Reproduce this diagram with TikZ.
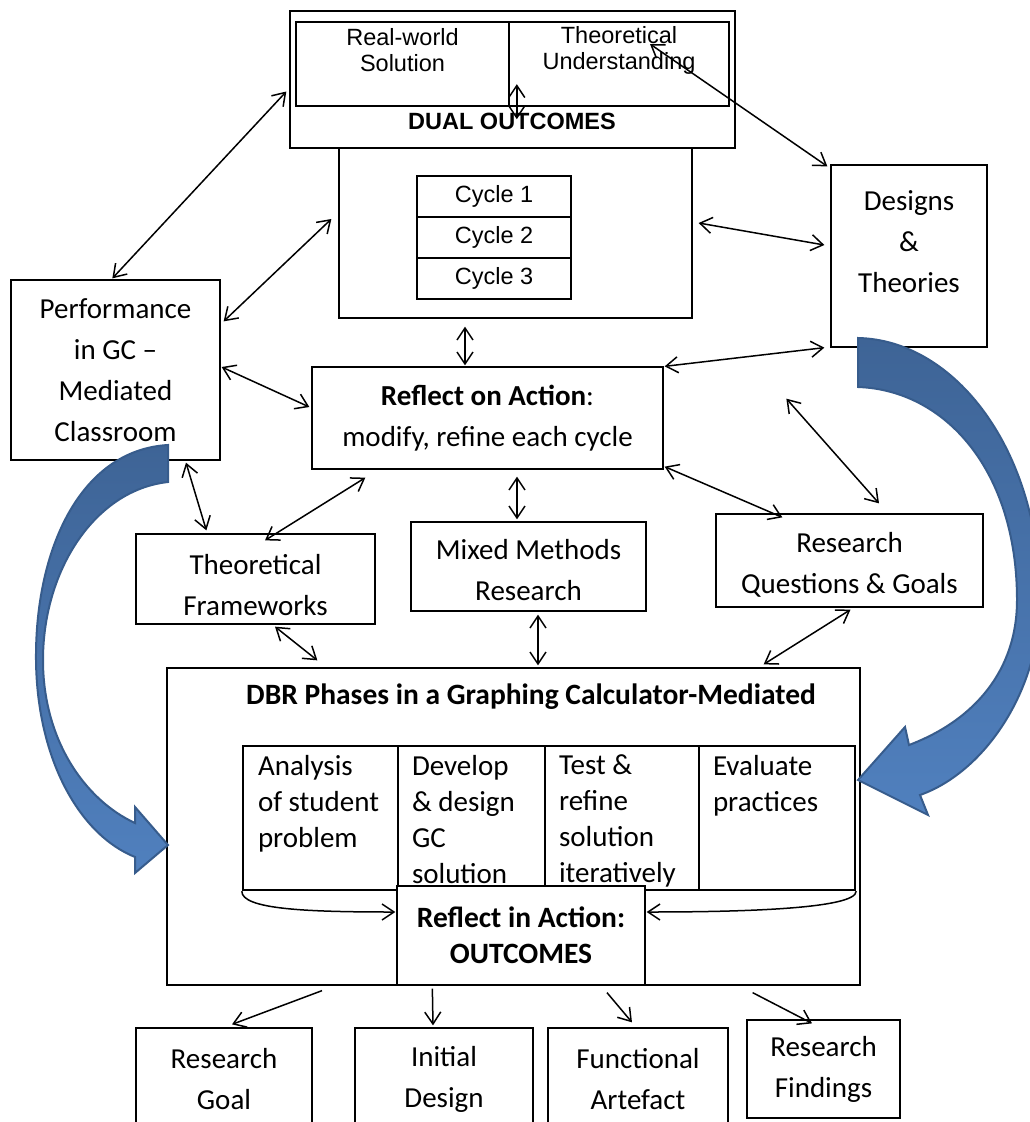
\documentclass[tikz,border=0pt]{standalone}
\usepackage{fontspec}
\setmainfont{Carlito}
\newfontfamily\arialfont{Liberation Sans}
\usetikzlibrary{positioning,arrows.meta,calc}
\definecolor{bluetop}{RGB}{62,100,150}
\definecolor{bluebot}{RGB}{80,128,190}
\definecolor{blueedge}{RGB}{55,92,140}

\begin{document}
\begin{tikzpicture}[
  x=1pt, y=-1pt, >={Straight Barb[length=12pt,width=16pt]},
  box/.style={draw, line width=1.3pt, inner sep=0pt, align=center,
              font=\fontsize{29}{41}\selectfont},
  txt/.style={inner sep=0pt, align=center, font=\fontsize{29}{41}\selectfont},
  cell/.style={draw, line width=2.4pt, inner sep=0pt, align=center},
  atxt/.style={inner sep=0pt, align=center, font=\arialfont\fontsize{23.5}{26}\selectfont},
  ptxt/.style={anchor=north west, inner sep=0pt, align=left, font=\fontsize{29}{36}\selectfont},
  arr/.style={->, line width=1.5pt},
  dbl/.style={<->, line width=1.5pt},
  bluearr/.style={draw=blueedge, line width=2pt, top color=bluetop, bottom color=bluebot},
]
\useasboundingbox (0,0) rectangle (1030,1122);

\node[box, minimum width=445pt, minimum height=137pt] (dual) at (512.5,79.5) {};
\node[cell, minimum width=213pt, minimum height=84pt] (rwsol) at (402.5,64) {};
\node[cell, minimum width=220pt, minimum height=84pt] (thund) at (619,64) {};
\node[atxt] (rwtxt) at (402.5,50) {Real-world\\Solution};
\node[atxt] (thtxt) at (619,50) {Theoretical\\Understanding};
\node[atxt, font=\arialfont\bfseries\fontsize{23.5}{26}\selectfont] (dualtxt) at (512,121) {DUAL OUTCOMES};

\node[box, minimum width=353pt, minimum height=170pt] (cycles) at (515.5,233) {};
\foreach \i/\y in {1/196.5,2/237.5,3/278.5}
  \node[cell, atxt, minimum width=154pt, minimum height=41pt] (cyc\i) at (494,\y) {Cycle \i};

\node[box, minimum width=156pt, minimum height=182pt] (design) at (909,256) {};
\node[txt] (destxt) at (909,242) {Designs\\\&\\Theories};

\node[box, minimum width=209pt, minimum height=180pt] (perf) at (115.5,370) {Performance\\in GC --\\Mediated\\Classroom};
\node[box, minimum width=351pt, minimum height=102pt] (reflect) at (487.5,418) {\textbf{Reflect on Action}:\\modify, refine each cycle};

\node[box, minimum width=239pt, minimum height=90pt] (theo) at (255.5,579) {};
\node[txt] (theotxt) at (255.5,585) {Theoretical\\Frameworks};
\node[box, minimum width=235pt, minimum height=89pt] (mixed) at (528.5,566.5) {};
\node[txt] (mixedtxt) at (528.5,570.5) {Mixed Methods\\Research};
\node[box, minimum width=267pt, minimum height=93pt] (rq) at (849.5,560.5) {};
\node[txt] (rqtxt) at (849.5,564.5) {Research\\Questions \& Goals};

\node[box, minimum width=693pt, minimum height=317pt] (dbr) at (513.5,826.5) {};
\node[txt, font=\bfseries\fontsize{29.5}{34}\selectfont] (dbrtxt) at (531,697) {DBR Phases in a Graphing Calculator-Mediated};
\node[cell, minimum width=155pt, minimum height=144pt] (ph1) at (320.5,818) {};
\node[cell, minimum width=147pt, minimum height=144pt] (ph2) at (471.5,818) {};
\node[cell, minimum width=154pt, minimum height=144pt] (ph3) at (622,818) {};
\node[cell, minimum width=156pt, minimum height=144pt] (ph4) at (777,818) {};
\node[ptxt] (ph1txt) at ($(ph1.north west)+(16,10)$) {Analysis\\of student\\problem};
\node[ptxt] (ph2txt) at ($(ph2.north west)+(15,10)$) {Develop\\\& design\\GC\\solution};
\node[ptxt] (ph3txt) at ($(ph3.north west)+(15,10)$) {Test \&\\refine\\solution\\iteratively};
\node[ptxt] (ph4txt) at ($(ph4.north west)+(15,10)$) {Evaluate\\practices};
\node[box, fill=white, minimum width=248pt, minimum height=99pt,
      font=\bfseries\fontsize{29.5}{36}\selectfont] (rinact) at (521,935.5) {Reflect in Action:\\OUTCOMES};

\node[box, minimum width=176pt, minimum height=102pt] (goal) at (224,1079) {Research\\Goal};
\node[box, minimum width=178pt, minimum height=102pt] (initd) at (444,1079) {Initial\\Design};
\node[box, minimum width=180pt, minimum height=102pt] (funct) at (638,1079) {Functional\\Artefact};
\node[box, minimum width=153pt, minimum height=98pt] (findings) at (823.5,1069) {Research\\Findings};

\draw[dbl] ($(thund.south west)+(9,-23)$) -- ($(thund.south west)+(9,12)$);
\draw[dbl] ($(perf.north west)+(102,-1)$) -- ($(dual.west)+(-3,12)$);
\draw[dbl] ($(perf.north east)+(3,42)$) -- ($(cycles.west)+(-7,-14)$);
\draw[dbl] ($(thund.center)+(31,-20)$) -- ($(design.north west)+(-3,2)$);
\draw[dbl] ($(cycles.east)+(6,-10)$) -- ($(design.west)+(-6,-11)$);
\draw[dbl] ($(cycles.south)+(-50.5,8)$) -- ($(reflect.north)+(-22.5,-1)$);
\draw[dbl] ($(perf.east)+(1,-3)$) -- ($(reflect.west)+(-2,-11)$);
\draw[dbl] ($(reflect.north east)+(1,0)$) -- ($(design.south west)+(-6,0)$);
\coordinate (dsfree) at ($(design.south west)+(-44,51)$);
\draw[dbl] (dsfree) -- ($(rq.north)+(29.5,-10)$);
\draw[dbl] ($(reflect.south east)+(1,-3)$) -- ($(rq.north west)+(67,4)$);
\draw[dbl] ($(perf.south)+(70.5,2)$) -- ($(theo.north west)+(71,-3)$);
\draw[dbl] ($(reflect.south west)+(54,8)$) -- ($(theo.north)+(9.5,7)$);
\draw[dbl] ($(reflect.south)+(29.5,7)$) -- ($(mixed.north)+(-11.5,-2)$);
\draw[dbl] ($(theo.south)+(19.5,2)$) -- ($(dbr.north west)+(151,-7)$);
\draw[dbl] ($(mixed.south)+(9.5,3)$) -- ($(dbr.north)+(24.5,-2)$);
\draw[dbl] ($(rq.south)+(1,2)$) -- ($(dbr.north east)+(-97,-3)$);

\draw[arr] (ph1.south west) .. controls +(0,18) and +(-90,0) .. ($(rinact.west)+(-1,-23.5)$);
\draw[arr] (ph4.south east) .. controls +(0,18) and +(90,0) .. ($(rinact.east)+(1,-23.5)$);

\draw[arr] ($(dbr.south)+(-191.5,5)$) -- ($(goal.north)+(8,-3)$);
\draw[arr] ($(dbr.south west)+(266,3)$) -- ($(initd.north)+(-11,-2)$);
\draw[arr] ($(rinact.south)+(86,7)$) -- ($(funct.north)+(-6,-5)$);
\draw[arr] ($(dbr.south east)+(-108,7)$) -- ($(findings.north)+(-11.5,4)$);

\path[bluearr] (168,445) .. controls (80,450) and (35,550) .. (36,660)
  .. controls (37,760) and (80,835) .. (135,857) -- (135,873) -- (168,845)
  -- (135,807) -- (135,823) .. controls (85,800) and (43,740) .. (43,660)
  .. controls (43,570) and (95,490) .. (168,482) -- cycle;
\path[bluearr] (858,338) .. controls (955,340) and (1040,450) .. (1040,600)
  .. controls (1040,690) and (985,772) .. (920,795) -- (928,815) -- (858,780)
  -- (905,727) -- (909,745) .. controls (975,720) and (1017,670) .. (1017,600)
  .. controls (1017,470) and (945,390) .. (858,387) -- cycle;
\end{tikzpicture}
\end{document}
